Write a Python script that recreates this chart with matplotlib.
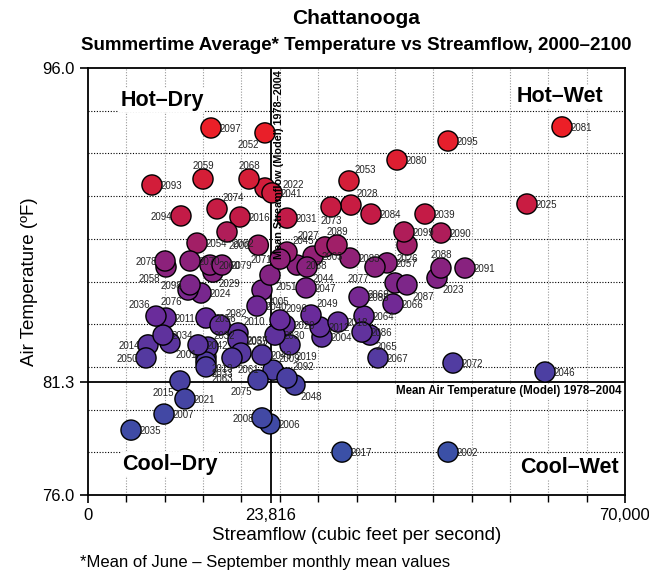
import matplotlib
matplotlib.use("Agg")
import matplotlib.pyplot as plt
from matplotlib.colors import LinearSegmentedColormap
from matplotlib.ticker import FixedLocator

plt.rcParams['font.family'] = ['Liberation Sans', 'DejaVu Sans']

# --- data: year, streamflow (cfs), summer air temperature (F)
years = list(range(2000, 2100))
flow = [
    22200, 10690, 46930, 29330, 30500, 22680, 23720, 9910, 22680, 24120,
    19550, 10170, 30240, 15380, 7820, 11990, 19810, 33110, 32590, 26330,
    25680, 12640, 23070, 45490, 14730, 57220, 41580, 30890, 34280, 16290,
    24380, 25940, 15640, 15380, 9780, 5610, 8860, 19550, 27240, 43930,
    22030, 23980, 14340, 22680, 28550, 25940, 59570, 28420, 26980, 29070,
    7560, 23720, 23070, 34020, 14210, 19940, 15380, 38980, 10170, 14990,
    15900, 18770, 18120, 15380, 35980, 36760, 39760, 37800, 20990, 40020,
    13300, 25030, 47580, 31680, 16820, 22160, 13040, 37410, 10040, 17470,
    40280, 61790, 17210, 34150, 36890, 35330, 35720, 41580, 46010, 32460,
    46010, 49140, 25940, 8340, 12120, 46930, 25030, 16030, 13300, 41190,
]
temp = [
    87.70, 83.12, 78.01, 87.19, 83.40, 85.60, 79.33, 79.79, 79.61, 81.85,
    83.59, 84.29, 83.87, 82.46, 83.03, 81.34, 89.02, 78.01, 84.10, 83.03,
    83.96, 80.50, 90.38, 86.16, 85.46, 89.63, 87.71, 87.62, 89.58, 86.44,
    83.49, 88.97, 82.93, 82.23, 83.49, 79.04, 84.38, 83.26, 86.77, 89.16,
    84.85, 90.15, 83.03, 82.56, 86.68, 87.38, 81.76, 85.70, 81.15, 84.43,
    82.42, 86.30, 92.96, 90.71, 87.80, 82.65, 84.29, 86.87, 86.68, 90.80,
    86.77, 82.42, 88.32, 82.00, 84.38, 83.49, 84.95, 82.42, 90.80, 85.93,
    86.96, 87.05, 82.18, 89.49, 89.40, 81.39, 85.60, 86.68, 86.96, 86.77,
    91.69, 93.24, 83.96, 87.10, 89.16, 85.27, 83.63, 85.84, 86.63, 87.71,
    88.27, 86.63, 81.48, 90.52, 89.07, 92.58, 84.20, 93.19, 85.84, 88.32,
]

mean_flow = 23816
mean_temp = 81.3

# label placement (offset in points, alignment); default is to the right
R = (6, -3, 'left')
L = (-6, -3, 'right')
A = (0, 7, 'center')
B = (0, -12, 'center')
BL = (-4, -11, 'right')
BR = (4, -11, 'left')
AR = (4, 6, 'left')
AL = (-4, 6, 'right')
label_pos = {
    2000: L, 2052: BL, 2094: L, 2078: L, 2058: BL, 2098: L, 2076: BL,
    2036: AL, 2014: L, 2050: L, 2015: BL, 2075: BL, 2008: L, 2073: B,
    2027: AL, 2089: A, 2077: BL, 2069: BL, 2026: B, 2023: BR, 2088: A,
    2059: A, 2068: A, 2074: AR, 2062: BR, 2029: BR, 2001: BR, 2063: BR,
    2048: BR, 2065: BR, 2087: BR, 2019: BR, 2053: AR, 2028: AR, 2049: AR,
    2045: AR, 2009: AR, 2092: AR, 2071: L, 2044: BR, 2079: R, 2060: R,
    2070: R, 2013: BR, 2033: BR, 2055: AR, 2061: BR, 2010: AR, 2082: AR,
    2096: AR, 2040: R, 2005: BR, 2051: BR, 2043: R, 2032: AR,
    2022: (13, 0, 'left'),
}

cmap = LinearSegmentedColormap.from_list(
    'heat',
    [(0.0, '#3b50a6'), (0.23, '#4a40a2'), (0.42, '#6b2b9b'),
     (0.58, '#8d217a'), (0.71, '#c21b48'), (0.84, '#d71e35'),
     (1.0, '#ee1f26')])

fig = plt.figure(figsize=(6.49, 5.77), dpi=100)
ax = fig.add_axes([88 / 649, 82 / 577, 537 / 649, 427 / 577])

# grid
for gy in range(78, 96, 2):
    ax.axhline(gy, color='black', lw=0.8, ls=(0, (1, 1.5)), zorder=0)
for gx in range(5000, 70000, 5000):
    ax.axvline(gx, color='#999999', lw=0.8, ls=(0, (1, 1.5)), zorder=0)

ax.axhline(mean_temp, color='black', lw=1.3, zorder=1)
ax.axvline(mean_flow, color='black', lw=1.3, zorder=1)

ax.scatter(flow, temp, c=temp, cmap=cmap, vmin=78, vmax=93.5, s=210,
           edgecolors='black', linewidths=1.0, zorder=3)

for yr, fx, ty in zip(years, flow, temp):
    dx, dy, ha = label_pos.get(yr, R)
    ax.annotate(str(yr), (fx, ty), xytext=(dx, dy), textcoords='offset points',
                ha=ha, va='baseline', fontsize=7, color='#222222', zorder=4)

# quadrant labels
qkw = dict(fontsize=15.5, fontweight='bold', zorder=5, ha='center',
           va='center', bbox=dict(facecolor='white', edgecolor='none', pad=1))
ax.text(9700, 94.5, 'Hot\u2013Dry', **qkw)
ax.text(61500, 94.65, 'Hot\u2013Wet', **qkw)
ax.text(10700, 77.45, 'Cool\u2013Dry', **qkw)
ax.text(62800, 77.3, 'Cool\u2013Wet', **qkw)

ax.text(mean_flow + 450, 95.9, 'Mean Streamflow (Model) 1978\u20132004',
        rotation=90, ha='left', va='top', fontsize=7.8, fontweight='bold',
        zorder=6)
ax.text(69500, mean_temp - 0.15, 'Mean Air Temperature (Model) 1978\u20132004',
        ha='right', va='top', fontsize=8.3, fontweight='bold', zorder=5,
        bbox=dict(facecolor='white', edgecolor='none', pad=0.5))

ax.set_xlim(0, 70000)
ax.set_ylim(76, 96)
ax.set_xticks([0, mean_flow, 70000])
ax.set_xticklabels(['0', '23,816', '70,000'])
ax.xaxis.set_minor_locator(FixedLocator(range(0, 70001, 5000)))
ax.set_yticks([76, mean_temp, 96])
ax.set_yticklabels(['76.0', '81.3', '96.0'])
ax.tick_params(axis='both', which='major', labelsize=12, length=6, width=1.2,
               direction='out')
ax.tick_params(axis='x', which='minor', length=5, width=1.0, direction='out')
for sp in ax.spines.values():
    sp.set_linewidth(1.3)

ax.set_xlabel('Streamflow (cubic feet per second)', fontsize=13.5, labelpad=3)
ax.set_ylabel('Air Temperature (\u00baF)', fontsize=13.5, labelpad=3)

fig.text(356 / 649, 1 - 18 / 577, 'Chattanooga', ha='center', va='center',
         fontsize=15, fontweight='bold')
fig.text(356 / 649, 1 - 45 / 577,
         'Summertime Average* Temperature vs Streamflow, 2000\u20132100',
         ha='center', va='center', fontsize=13.5, fontweight='bold',
         family=['Liberation Sans Narrow', 'Liberation Sans', 'DejaVu Sans'])
fig.text(80 / 649, 1 - 563 / 577,
         '*Mean of June \u2013 September monthly mean values',
         ha='left', va='center', fontsize=12)

fig.savefig('out.png', dpi=100)
